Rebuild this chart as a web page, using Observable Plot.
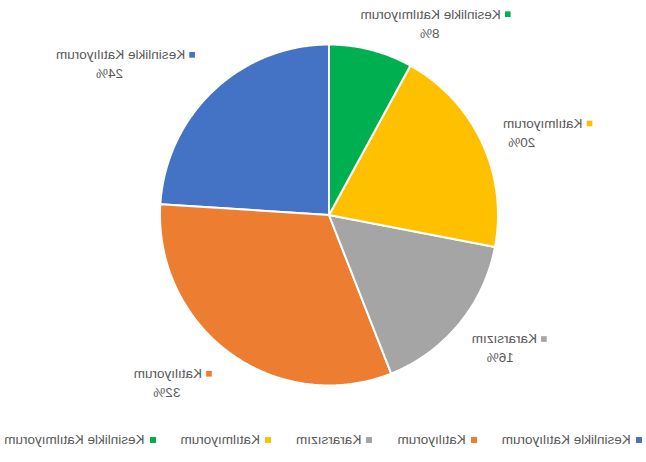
<!DOCTYPE html>
<html><head><meta charset="utf-8">
<script src="https://cdn.jsdelivr.net/npm/d3@7"></script>
<script src="https://cdn.jsdelivr.net/npm/@observablehq/plot@0.6"></script>
<style>
body{margin:0;background:#fff;}
#wrap{width:646px;height:462px;position:relative;overflow:hidden;transform:scaleX(-1);font-family:"Liberation Sans",Arial,sans-serif;}
#chart{position:absolute;left:0;top:0;}
#legend{position:absolute;left:0;top:432px;width:646px;display:flex;justify-content:center;gap:25px;font-size:13.5px;line-height:16px;color:#595959;}
#legend .it{display:flex;align-items:center;white-space:nowrap;}
#legend .sw{width:6px;height:6px;margin-right:5px;}
</style></head><body><div id="wrap"><div id="chart"></div><div id="legend"></div></div>
<script>
// Data
const categories = ["Kesinlikle Katılıyorum", "Katılıyorum", "Kararsızım", "Katılmıyorum", "Kesinlikle Katılmıyorum"];
const percents = [24, 32, 16, 20, 8];
const colors = ["#4472C4", "#ED7D31", "#A5A5A5", "#FFC000", "#00B050"];

// Layout (pixels)
const W = 646, H = 425, CX = 316.5, CY = 214.5, RX = 169, RY = 170.5;
const labelNudge = [[58, 0], [32, -19], [-6, -16], [-15, 2], [-47, 12]];
const pctShift = [11, 1, 4, 21, 1];
const FONT = "13.5px 'Liberation Sans', Arial, sans-serif";

const arcs = d3.pie().sort(null).value(d => d)(percents);

// slice polygons in unit coordinates (y up)
const slicePts = [];
arcs.forEach((a, i) => {
  const cat = categories[i];
  slicePts.push({cat, x: 0, y: 0});
  const n = Math.max(2, Math.ceil((a.endAngle - a.startAngle) / (Math.PI / 360)));
  for (let k = 0; k <= n; k++) {
    const t = a.startAngle + (a.endAngle - a.startAngle) * k / n;
    slicePts.push({cat, x: Math.sin(t), y: Math.cos(t)});
  }
});

const ctx = document.createElement("canvas").getContext("2d");
ctx.font = FONT;

const labels = arcs.map((a, i) => {
  const m = (a.startAngle + a.endAngle) / 2;
  const pxX = 1.3 * 169 * Math.sin(m) + labelNudge[i][0];
  const pxY = -1.3 * 169 * Math.cos(m) + labelNudge[i][1];
  const w = ctx.measureText(categories[i]).width;
  return {
    cat: categories[i],
    pct: percents[i] + "%",
    x: pxX / RX, y: -pxY / RY,
    sx: (pxX - w / 2 - 7) / RX,
    px: (pxX + pctShift[i]) / RX,
    py: -(pxY + 19) / RY
  };
});

const chart = Plot.plot({
  width: W, height: H, margin: 0,
  style: {fontFamily: "'Liberation Sans', Arial, sans-serif", fontSize: "13.5px", background: "transparent"},
  x: {domain: [-CX / RX, (W - CX) / RX], axis: null},
  y: {domain: [(CY - H) / RY, CY / RY], axis: null},
  color: {domain: categories, range: colors},
  marks: [
    Plot.line(slicePts, {x: "x", y: "y", z: "cat", fill: "cat", stroke: "white", strokeWidth: 2, curve: "linear-closed", strokeLinejoin: "round"}),
    Plot.dot(labels, {x: "sx", y: "y", fill: "cat", symbol: "square", r: 3.2, stroke: null}),
    Plot.text(labels, {x: "x", y: "y", text: "cat", fill: "#595959", textAnchor: "middle"}),
    Plot.text(labels, {x: "px", y: "py", text: "pct", fill: "#595959", textAnchor: "middle"})
  ]
});
document.getElementById("chart").appendChild(chart);

const lg = document.getElementById("legend");
categories.forEach((c, i) => {
  const it = document.createElement("div");
  it.className = "it";
  const sw = document.createElement("span");
  sw.className = "sw";
  sw.style.background = colors[i];
  const tx = document.createElement("span");
  tx.textContent = c;
  it.appendChild(sw); it.appendChild(tx);
  lg.appendChild(it);
});
</script>
</body></html>
